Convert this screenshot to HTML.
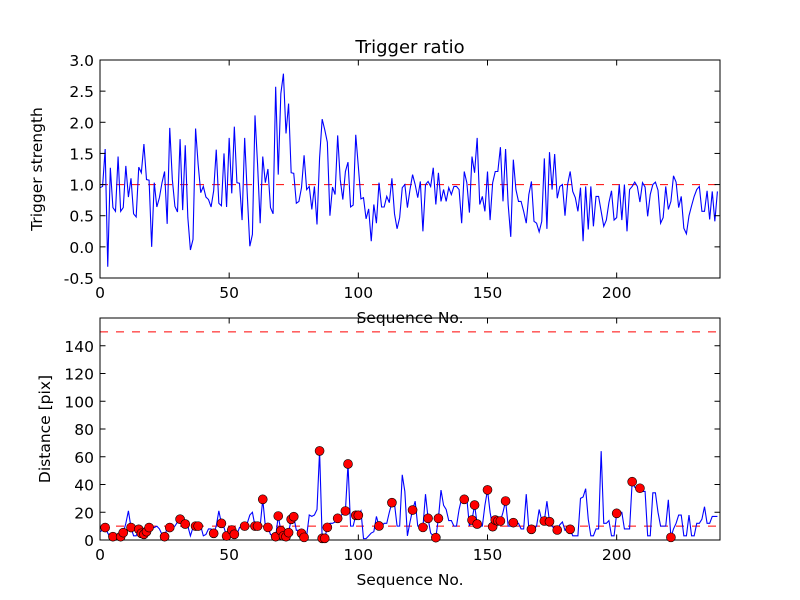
<!DOCTYPE html>
<html><head><meta charset="utf-8"><style>
html,body{margin:0;padding:0;background:#fff}
svg{display:block;font-family:"DejaVu Sans","Liberation Sans",sans-serif}
</style></head><body>
<svg id="fig" width="800" height="600" viewBox="0 0 800 600">
<rect x="0" y="0" width="800" height="600" fill="#fff"/>
<text x="410" y="53" font-size="18" text-anchor="middle">Trigger ratio</text>
<g id="top"></g>
<g id="bot"></g>
<text x="42" y="169" font-size="15.5" text-anchor="middle" transform="rotate(-90 42 169)">Trigger strength</text>
<text x="410" y="323" font-size="15.5" text-anchor="middle">Sequence No.</text>
<text x="50" y="429" font-size="15.5" text-anchor="middle" transform="rotate(-90 50 429)">Distance [pix]</text>
<text x="410" y="585" font-size="15.5" text-anchor="middle">Sequence No.</text>
</svg>
<script>
const strength = [0.95,0.97,1.57,-0.32,1.27,0.63,0.57,1.45,0.57,0.63,1.3,0.8,1.1,0.53,0.48,1.28,1.19,1.65,1.08,1.07,0.0,1.03,0.64,0.79,1.03,1.21,0.37,1.91,1.08,0.65,0.56,1.73,0.59,1.63,0.47,-0.05,0.12,1.9,1.32,0.87,0.97,0.8,0.76,0.64,0.9,1.56,0.7,0.66,1.5,0.64,1.75,0.86,1.93,1.03,1.02,0.43,1.75,0.85,
0.01,0.2,2.11,1.32,0.38,1.45,1.03,1.25,0.63,0.53,2.57,1.16,2.46,2.78,1.82,2.3,1.19,1.18,0.7,0.73,0.95,1.47,0.92,0.97,0.6,0.97,0.36,1.43,2.05,1.88,1.68,0.5,0.96,0.84,1.79,1.08,0.76,1.21,1.36,0.64,0.67,1.8,1.29,0.77,0.79,0.45,0.61,0.09,0.68,0.38,1.03,0.64,0.64,0.81,0.71,1.1,0.53,0.29,0.47,0.95,
1.0,0.63,0.92,1.16,1.0,0.79,1.05,0.25,1.0,1.05,0.97,1.27,0.68,1.19,0.73,0.92,0.73,0.95,0.84,0.97,0.97,0.92,0.38,1.21,1.03,0.55,1.45,1.19,1.75,0.68,0.81,0.57,1.21,0.43,1.03,1.21,1.21,1.6,0.73,1.57,0.68,0.16,1.4,0.92,0.73,0.73,0.57,0.38,0.84,1.05,0.41,0.38,0.24,0.41,1.42,0.29,1.52,0.92,1.49,0.78,
0.97,1.0,0.5,1.0,1.21,0.89,0.79,0.57,0.95,0.09,0.97,0.28,0.97,0.33,0.81,0.81,0.57,0.33,0.43,0.71,0.9,0.43,0.47,1.0,0.43,1.0,0.25,0.92,0.97,1.04,0.97,0.72,1.03,0.96,0.49,0.84,1.0,1.04,0.91,0.38,0.47,0.97,0.6,0.73,1.14,1.04,0.63,0.81,0.3,0.21,0.5,0.66,0.81,0.92,0.97,0.57,0.57,0.9,0.44,0.89,0.41,0.89];
const strengthThreshold = [1.0];
const distance = [6,7,9,5,2,2.4,3,2,2.4,5.3,12,21,9,3,3,7.7,4.8,4.1,6,9,9,9,10,8,4,2.4,9,9,9,10,13,15,12,11.5,10,3,9,10,10,10,3,4,8,8,4.8,10,21,12,9,2.9,7,7.2,4.1,4,9,10,10,12,18,20,
10,10,10,29.3,10,9.1,4,3,2.4,17.3,6.7,2.9,2.4,5.3,14.9,16.8,7,7,4.8,1.9,3,18,17,18,22,64.2,1.2,1.2,9.1,12,12,13,15.6,17,19,20.9,54.8,10,10,17.8,17.8,21,1,1,3,5,6,17,10.1,10,12,12,20,26.9,26,10,10,47,35,3,
13,21.6,28,10,10,9.1,33,15.6,5,3,1.7,15.6,36,25,22,14,14,10,10,22,30,29.3,30,10,14.4,25.2,11.5,10,10,25,36.1,20,9.6,14.4,13.7,13.7,20,28.1,10,10,12.5,12,12,8,8,33,8,7.7,8,10,22,14,13.7,28,13.2,10,8,7.2,11,13,
7,8,7.7,3,3,3,30,31,37,15,3,3,8,8,64,12,12,14,3,3,19.2,20,20,8,8,8,42,38,37,37.3,35,35,3,3,34,34,20,10,10,10,29,1.9,8,12,18,18,3,3,18,3,3,12,12,15,24,12,12,17,17,17];
const markedIdx = [2,5,8,9,12,15,16,17,18,19,25,27,31,33,37,38,44,47,49,51,52,56,60,61,63,65,68,69,70,71,72,73,74,75,78,79,85,86,87,88,92,95,96,99,100,108,113,121,125,127,130,131,141,144,145,146,150,152,153,154,155,157,160,167,172,174,177,182,200,206,209,221];
const distThresholds = [150,10];
const xTicks = [0,50,100,150,200];
const topYTicks = [-0.5,0.0,0.5,1.0,1.5,2.0,2.5,3.0];
const botYTicks = [0,20,40,60,80,100,120,140];

const NS='http://www.w3.org/2000/svg';
function mk(parent,tag,attrs){const e=document.createElementNS(NS,tag);for(const k in attrs)e.setAttribute(k,attrs[k]);parent.appendChild(e);return e;}

function panel(g,box,ymin,ymax,yTicks,fmt,clipId){
  const sx=v=>box.x+(v-0)/(240-0)*box.w;
  const sy=v=>box.y+box.h-(v-ymin)/(ymax-ymin)*box.h;
  const defs=mk(g,'defs',{});
  const cp=mk(defs,'clipPath',{id:clipId});
  mk(cp,'rect',{x:box.x,y:box.y,width:box.w,height:box.h});
  const plot=mk(g,'g',{'clip-path':'url(#'+clipId+')'});
  
  
  xTicks.forEach(t=>{
    const x=sx(t);
    const a=mk(g,'line',{x1:x,x2:x,y1:box.y+box.h,y2:box.y+box.h-5.5,stroke:'#000','stroke-width':1});
    
    
    mk(g,'line',{x1:x,x2:x,y1:box.y,y2:box.y+5.5,stroke:'#000','stroke-width':1});
    const l=mk(g,'text',{x:x,y:box.y+box.h+20,'font-size':15.5,'text-anchor':'middle'});
    l.textContent=String(t);
    
    
  });
  yTicks.forEach(t=>{
    const y=sy(t);
    const a=mk(g,'line',{x1:box.x,x2:box.x+5.5,y1:y,y2:y,stroke:'#000','stroke-width':1});
    
    
    mk(g,'line',{x1:box.x+box.w,x2:box.x+box.w-5.5,y1:y,y2:y,stroke:'#000','stroke-width':1});
    const l=mk(g,'text',{x:box.x-6,y:y+6,'font-size':15.5,'text-anchor':'end'});
    l.textContent=fmt(t);
    
    
  });
  const fr=mk(g,'rect',{x:box.x,y:box.y,width:box.w,height:box.h,fill:'none',stroke:'#000','stroke-width':1});
  
  
  return {sx,sy,plot};
}

const T=panel(document.getElementById('top'),{x:100,y:60,w:620,h:218},-0.5,3.0,topYTicks,v=>v.toFixed(1),'c1');
strengthThreshold.forEach(v=>{
  const l=mk(T.plot,'line',{x1:T.sx(0),x2:T.sx(240),y1:T.sy(v),y2:T.sy(v),stroke:'#ff0000','stroke-width':1,'stroke-dasharray':'8 8'});
  
  
});
const p1=mk(T.plot,'polyline',{points:strength.map((v,i)=>T.sx(i)+','+T.sy(v)).join(' '),fill:'none',stroke:'#0000ff','stroke-width':1.1});



const B=panel(document.getElementById('bot'),{x:100,y:318,w:620,h:222},0,160,botYTicks,v=>String(v),'c2');
distThresholds.forEach(v=>{
  const l=mk(B.plot,'line',{x1:B.sx(0),x2:B.sx(240),y1:B.sy(v),y2:B.sy(v),stroke:'#ff0000','stroke-width':1,'stroke-dasharray':'8 8'});
  
  
});
const p2=mk(B.plot,'polyline',{points:distance.map((v,i)=>B.sx(i)+','+B.sy(v)).join(' '),fill:'none',stroke:'#0000ff','stroke-width':1.1});


const bg=document.getElementById('bot');
markedIdx.forEach(i=>{
  const c=mk(bg,'circle',{cx:B.sx(i),cy:B.sy(distance[i]),r:4.5,fill:'#ff0000',stroke:'#000','stroke-width':0.6});
  
  
});
</script>
</body></html>
